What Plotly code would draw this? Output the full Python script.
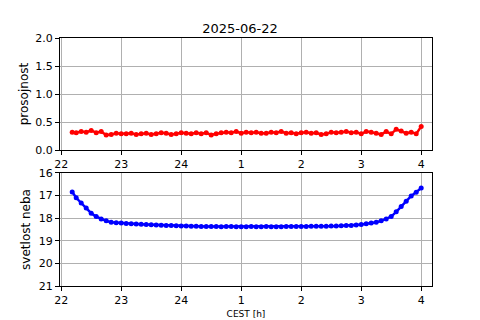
import plotly.graph_objects as go
from plotly.subplots import make_subplots

# minutes after 22:00 CEST
minutes = [11, 15, 20, 25, 30, 35, 40, 45, 50, 55, 60, 65, 70, 75, 80, 85, 90, 95,
           100, 105, 110, 115, 120, 125, 130, 135, 140, 145, 150, 155, 160, 165, 170,
           175, 180, 185, 190, 195, 200, 205, 210, 215, 220, 225, 230, 235, 240, 245,
           250, 255, 260, 265, 270, 275, 280, 285, 290, 295, 300, 305, 310, 315, 320,
           325, 330, 335, 340, 345, 350, 355, 360]

prosojnost = [0.32, 0.31, 0.33, 0.32, 0.35, 0.31, 0.33, 0.27, 0.28, 0.30, 0.29,
              0.29, 0.30, 0.28, 0.29, 0.30, 0.28, 0.29, 0.31, 0.30, 0.28, 0.29,
              0.31, 0.30, 0.29, 0.31, 0.29, 0.31, 0.27, 0.29, 0.31, 0.32, 0.31,
              0.33, 0.30, 0.32, 0.31, 0.32, 0.30, 0.30, 0.32, 0.31, 0.33, 0.30,
              0.31, 0.29, 0.31, 0.32, 0.30, 0.31, 0.28, 0.29, 0.32, 0.31, 0.32,
              0.33, 0.31, 0.32, 0.29, 0.33, 0.32, 0.30, 0.28, 0.33, 0.29, 0.37,
              0.34, 0.30, 0.32, 0.29, 0.42]

svetlost = [16.84, 17.10, 17.33, 17.55, 17.78, 17.93, 18.04, 18.12, 18.18, 18.20,
            18.22, 18.24, 18.25, 18.26, 18.27, 18.28, 18.29, 18.30, 18.31, 18.32,
            18.33, 18.34, 18.35, 18.35, 18.36, 18.36, 18.37, 18.37, 18.37, 18.37,
            18.38, 18.37, 18.37, 18.38, 18.38, 18.38, 18.37, 18.38, 18.38, 18.37,
            18.38, 18.38, 18.38, 18.37, 18.37, 18.37, 18.37, 18.37, 18.36, 18.36,
            18.36, 18.36, 18.35, 18.35, 18.34, 18.33, 18.32, 18.30, 18.28, 18.25,
            18.22, 18.18, 18.12, 18.04, 17.93, 17.72, 17.48, 17.25, 17.02, 16.85, 16.67]

tick_vals = [22, 23, 24, 25, 26, 27, 28]
tick_text = ["22", "23", "24", "1", "2", "3", "4"]

hours = [22 + m / 60 for m in minutes]

fig = make_subplots(rows=2, cols=1, shared_xaxes=False, vertical_spacing=0.09)

fig.add_trace(go.Scatter(x=hours, y=prosojnost, mode="lines+markers",
                         line=dict(color="red", width=2.5),
                         marker=dict(color="red", size=5),
                         showlegend=False), row=1, col=1)
fig.add_trace(go.Scatter(x=hours, y=svetlost, mode="lines+markers",
                         line=dict(color="blue", width=2.5),
                         marker=dict(color="blue", size=5),
                         showlegend=False), row=2, col=1)

axis_common = dict(showline=True, linecolor="black", linewidth=1, mirror=True,
                   ticks="outside", ticklen=4, tickcolor="black",
                   showgrid=True, gridcolor="#b0b0b0", gridwidth=1,
                   zeroline=False, automargin=False,
                   tickfont=dict(size=11, color="black"))

for r in (1, 2):
    fig.update_xaxes(range=[21.98, 28.18], tickvals=tick_vals, ticktext=tick_text,
                     **axis_common, row=r, col=1)

fig.update_xaxes(title=dict(text="CEST [h]", font=dict(size=9, color="black"), standoff=4),
                 row=2, col=1)
fig.update_yaxes(range=[0, 2], tickvals=[0, 0.5, 1.0, 1.5, 2.0],
                 ticktext=["0.0", "0.5", "1.0", "1.5", "2.0"],
                 title=dict(text="prosojnost", font=dict(size=12, color="black"), standoff=4),
                 **axis_common, row=1, col=1)
fig.update_yaxes(range=[21, 16], tickvals=[16, 17, 18, 19, 20, 21],
                 title=dict(text="svetlost neba", font=dict(size=12, color="black"), standoff=5),
                 **axis_common, row=2, col=1)

fig.update_layout(
    width=480, height=320,
    margin=dict(l=60, r=48, t=38, b=34),
    paper_bgcolor="white", plot_bgcolor="white",
    font=dict(family="DejaVu Sans", size=11, color="black"),
    title=dict(text="2025-06-22", x=0.5, xanchor="center", y=1 - 28 / 320,
               yanchor="middle", font=dict(size=13, color="black")),
)
fig.layout.yaxis.domain = [0.548, 1.0]
fig.layout.yaxis2.domain = [0.0, 0.456]

fig.write_html("out.html", config={"displayModeBar": False},
               post_script="document.body.style.margin='0px';document.body.style.padding='0px';")
